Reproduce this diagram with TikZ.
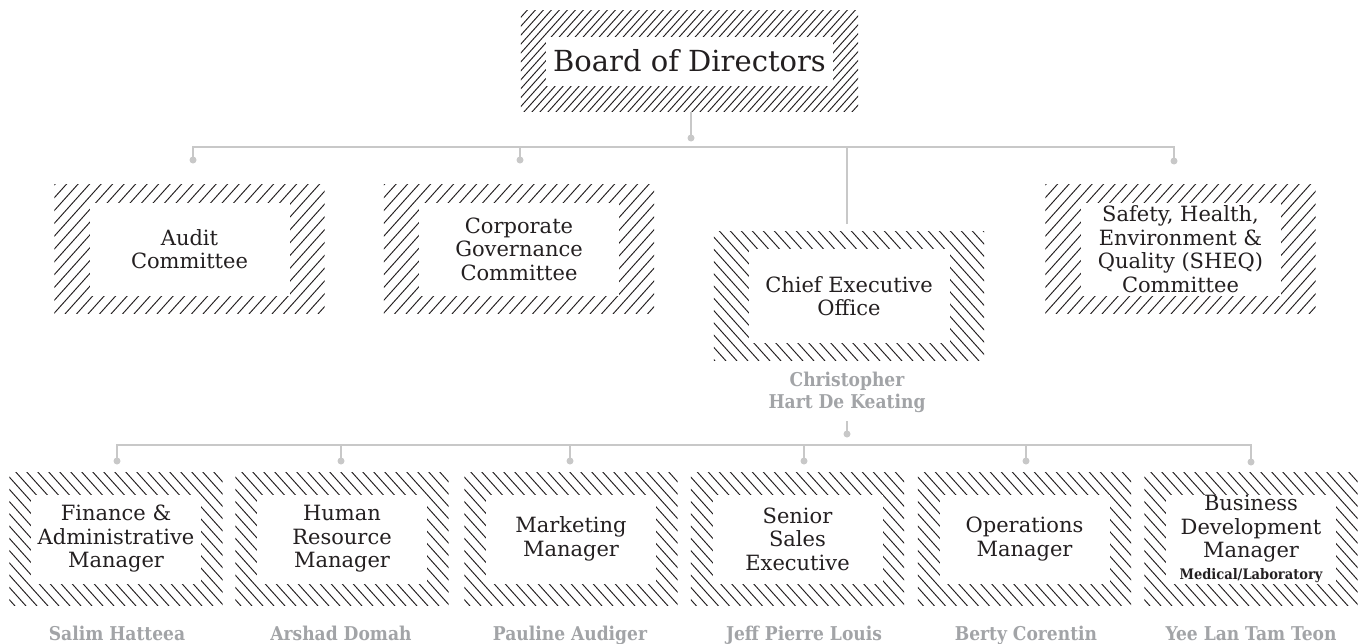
\documentclass[tikz,border=0pt]{standalone}
\usepackage{fontspec}
\setmainfont{DejaVu Serif}
\newfontfamily\namefont{DejaVu Serif Condensed}
\usetikzlibrary{calc,backgrounds}
\definecolor{ink}{HTML}{231F20}
\definecolor{connc}{HTML}{C8C8C8}
\definecolor{namec}{HTML}{A2A4A7}
\tikzset{
  hatchline/.style={draw=ink, line width=0.95pt},
  frame/.style 2 args={minimum width=#1pt, minimum height=#2pt,
    inner sep=0pt, align=center, text=ink},
  boardbox/.style={frame={337}{101}, font=\fontsize{29}{32}\selectfont},
  combox/.style={frame={270}{128}, font=\fontsize{21}{23.5}\selectfont},
  mgrbox/.style={frame={213}{132}, font=\fontsize{21}{23.5}\selectfont},
  conn/.style={draw=connc, line width=1.4pt},
  pin/.style={circle, fill=connc, inner sep=0pt, minimum size=7pt},
  person/.style={text=namec, align=center,
    font=\namefont\bfseries\fontsize{19}{22}\selectfont},
}
% hatched frame behind a node:
% #1 node, #2 height, #3 inner width, #4 inner height, #5 slope, #6 pitch
\newcommand\hatchframe[6]{%
  \begin{scope}[on background layer]
    \begin{scope}
      \clip (#1.south west) rectangle (#1.north east);
      \foreach \k in {-40,...,40}{
        \draw[hatchline] ($(#1.south)+({\k*#6},3)$) -- ($(#1.north)+({\k*#6+#5*(#2+6)},-3)$);
      }
    \end{scope}
    \fill[white] ($(#1.center)+({-#3/2},{-#4/2})$) rectangle ($(#1.center)+({#3/2},{#4/2})$);
  \end{scope}}
\begin{document}
\begin{tikzpicture}[x=1pt,y=-1pt]
\useasboundingbox (0,0) rectangle (1362,643);

% --- boxes ---
\node[boardbox] (board) at (689.5,61) {Board of Directors};

\node[combox] (audit) at (189.5,249) {Audit\\Committee};
\node[combox] (corp)  at (519,249) {Corporate\\Governance\\Committee};
\node[combox] (ceo)   at (849,296) {Chief Executive\\Office};
\node[combox] (sheq)  at (1180.5,249) {Safety, Health,\\Environment \&\\Quality (SHEQ)\\Committee};

\node[mgrbox] (fin)   at (116,539)    {Finance \&\\Administrative\\Manager};
\node[mgrbox] (hr)    at (342,539)    {Human\\Resource\\Manager};
\node[mgrbox] (mkt)   at (571,539)    {Marketing\\Manager};
\node[mgrbox] (sales) at (797.5,539)  {Senior\\Sales\\Executive};
\node[mgrbox] (ops)   at (1024.5,539) {Operations\\Manager};
\node[mgrbox] (bdm)   at (1251,539)
  {Business\\Development\\Manager\\[-2pt]{\namefont\bfseries\fontsize{14.5}{16}\selectfont Medical/Laboratory}};

\hatchframe{board}{101}{287}{49}{0.9}{8}
\foreach \bx in {audit,corp,sheq}{
  \hatchframe{\bx}{128}{200}{93}{0.9}{11.5}
}
\hatchframe{ceo}{128}{201}{94}{-0.9}{11}
\foreach \bx in {fin,hr,mkt,sales,ops,bdm}{
  \hatchframe{\bx}{132}{170}{89}{-0.9}{11}
}

% --- people ---
\node[person] (ceo-name) at (847,392) {Christopher\\Hart De Keating};
\node[person, anchor=base] (fin-name)   at (117,640)  {Salim Hatteea};
\node[person, anchor=base] (hr-name)    at (341,640)  {Arshad Domah};
\node[person, anchor=base] (mkt-name)   at (570,640)  {Pauline Audiger};
\node[person, anchor=base] (sales-name) at (804,640)  {Jeff Pierre Louis};
\node[person, anchor=base] (ops-name)   at (1026,640) {Berty Corentin};
\node[person, anchor=base] (bdm-name)   at (1251,640) {Yee Lan Tam Teon};

% --- connector ends ---
\coordinate (bus)  at (0,147);
\coordinate (lbus) at (0,445);
\coordinate (ceo-top) at (847,224);
\coordinate (ceo-low) at (847,421);

\node[pin] (d-board) at (691,138) {};
\node[pin] (d-audit) at (193,160) {};
\node[pin] (d-corp)  at (520,160) {};
\node[pin] (d-sheq)  at (1174,161) {};
\node[pin] (d-ceo)   at (847,434) {};
\node[pin] (d-fin)   at (117,461) {};
\node[pin] (d-hr)    at (341,461) {};
\node[pin] (d-mkt)   at (570,461) {};
\node[pin] (d-sales) at (804,461) {};
\node[pin] (d-ops)   at (1026,461) {};
\node[pin] (d-bdm)   at (1251,462) {};

% --- upper level ---
\draw[conn] (board.south -| d-board) -- (d-board.center);
\draw[conn] (d-audit.center) -- (d-audit.center |- bus)
            -- (d-sheq.center |- bus) -- (d-sheq.center);
\draw[conn] (d-corp.center) -- (d-corp.center |- bus);
\draw[conn] (ceo-top) -- (ceo-top |- bus);

% --- lower level ---
\draw[conn] (ceo-low) -- (d-ceo.center);
\draw[conn] (d-fin.center) -- (d-fin.center |- lbus)
            -- (d-bdm.center |- lbus) -- (d-bdm.center);
\foreach \d in {d-hr,d-mkt,d-sales,d-ops}{
  \draw[conn] (\d.center) -- (\d.center |- lbus);
}
\end{tikzpicture}
\end{document}
